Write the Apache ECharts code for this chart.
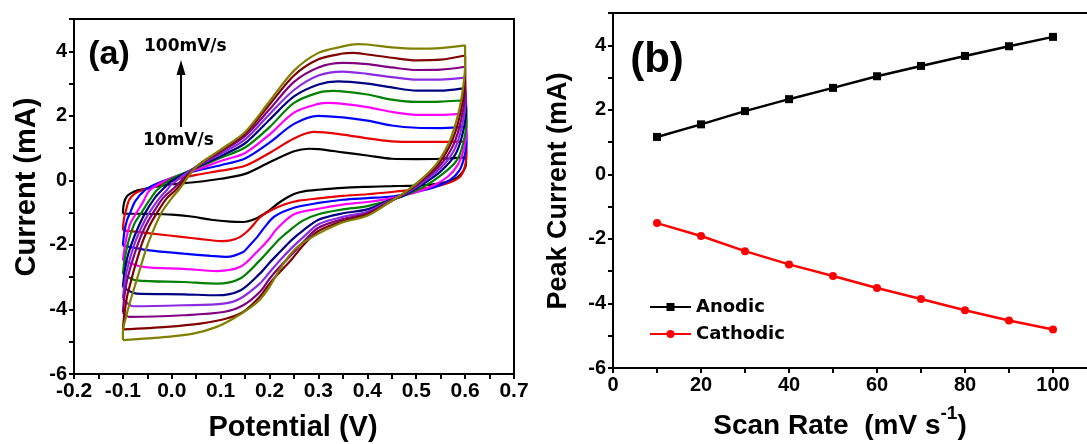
<!DOCTYPE html>
<html>
<head>
<meta charset="utf-8">
<script src="https://cdn.jsdelivr.net/npm/echarts/dist/echarts.min.js"></script>
<style>
  html, body { margin: 0; padding: 0; background: #fff; }
  #chart { width: 1087px; height: 444px; }
</style>
</head>
<body>
<div id="chart"></div>
<script>
// (a) cyclic voltammograms, [potential (V), current (mA)], forward sweep then reverse
var cv10 = [[-0.1,-1.03],[-0.098,-0.72],[-0.093,-0.52],[-0.085,-0.41],[-0.07,-0.31],[-0.05,-0.25],[-0.03,-0.19],[0,-0.12],[0.05,-0.05],[0.1,0.05],[0.15,0.2],[0.2,0.56],[0.25,0.9],[0.28,0.98],[0.3,0.97],[0.35,0.87],[0.4,0.77],[0.45,0.67],[0.5,0.66],[0.55,0.67],[0.6,0.71],
  [0.602,0.52],[0.597,0.3],[0.585,0.1],[0.565,-0.04],[0.53,-0.13],[0.5,-0.16],[0.45,-0.18],[0.4,-0.2],[0.35,-0.23],[0.3,-0.29],[0.27,-0.34],[0.25,-0.42],[0.235,-0.54],[0.215,-0.74],[0.195,-0.98],[0.17,-1.2],[0.146,-1.29],[0.12,-1.28],[0.08,-1.22],[0.04,-1.12],[0,-1.06],[-0.05,-1.04],[-0.1,-1.03]];
var cv20 = [[-0.1,-1.55],[-0.098,-1.2],[-0.094,-0.95],[-0.087,-0.6],[-0.075,-0.4],[-0.06,-0.3],[-0.03,-0.15],[0,0],[0.05,0.17],[0.1,0.3],[0.15,0.45],[0.2,0.85],[0.25,1.3],[0.29,1.5],[0.35,1.42],[0.4,1.3],[0.45,1.21],[0.5,1.19],[0.55,1.19],[0.6,1.2],
  [0.603,0.85],[0.6,0.45],[0.59,0.12],[0.57,-0.06],[0.535,-0.21],[0.5,-0.28],[0.45,-0.36],[0.4,-0.43],[0.35,-0.48],[0.3,-0.56],[0.26,-0.63],[0.23,-0.75],[0.2,-0.95],[0.18,-1.15],[0.16,-1.5],[0.14,-1.75],[0.12,-1.86],[0.1,-1.88],[0.06,-1.82],[0.02,-1.75],[-0.04,-1.65],[-0.1,-1.55]];
var cv30 = [[-0.1,-2.02],[-0.097,-1.6],[-0.092,-1.25],[-0.085,-1.0],[-0.075,-0.65],[-0.055,-0.3],[-0.03,-0.1],[0,0.07],[0.05,0.3],[0.1,0.47],[0.15,0.68],[0.2,1.17],[0.25,1.75],[0.3,2.0],[0.35,1.95],[0.4,1.85],[0.45,1.7],[0.5,1.63],[0.55,1.62],[0.6,1.66],
  [0.603,1.2],[0.598,0.7],[0.588,0.3],[0.57,0.02],[0.54,-0.2],[0.5,-0.36],[0.45,-0.5],[0.4,-0.55],[0.35,-0.6],[0.3,-0.7],[0.25,-0.85],[0.21,-1.12],[0.19,-1.45],[0.175,-1.75],[0.16,-2.0],[0.146,-2.22],[0.112,-2.37],[0.08,-2.34],[0.024,-2.27],[-0.045,-2.17],[-0.1,-2.02]];
var cv40 = [[-0.1,-2.48],[-0.097,-2.15],[-0.093,-1.8],[-0.085,-1.35],[-0.072,-1.0],[-0.058,-0.65],[-0.045,-0.3],[0,0.08],[0.05,0.33],[0.1,0.6],[0.15,0.85],[0.2,1.42],[0.25,2.1],[0.3,2.37],[0.32,2.4],[0.35,2.37],[0.4,2.27],[0.45,2.12],[0.5,2.03],[0.55,2.03],[0.6,2.07],
  [0.603,1.5],[0.597,0.95],[0.585,0.48],[0.565,0.12],[0.535,-0.16],[0.5,-0.37],[0.45,-0.55],[0.4,-0.67],[0.35,-0.75],[0.3,-0.88],[0.25,-1.05],[0.215,-1.5],[0.2,-1.8],[0.174,-2.22],[0.14,-2.68],[0.092,-2.81],[0.024,-2.74],[-0.058,-2.68],[-0.1,-2.48]];
var cv50 = [[-0.1,-2.9],[-0.097,-2.5],[-0.092,-2.1],[-0.085,-1.7],[-0.075,-1.3],[-0.062,-1.0],[-0.045,-0.6],[-0.03,-0.3],[0,0.05],[0.05,0.38],[0.1,0.7],[0.15,1.02],[0.2,1.65],[0.25,2.4],[0.3,2.72],[0.33,2.77],[0.4,2.66],[0.45,2.5],[0.5,2.43],[0.55,2.44],[0.6,2.48],
  [0.603,1.86],[0.596,1.14],[0.583,0.62],[0.555,0.21],[0.514,-0.21],[0.467,-0.52],[0.4,-0.8],[0.35,-0.9],[0.3,-1.05],[0.269,-1.24],[0.245,-1.5],[0.221,-1.81],[0.2,-2.15],[0.18,-2.48],[0.14,-3.04],[0.092,-3.2],[0.024,-3.15],[-0.072,-3.1],[-0.1,-2.9]];
var cv60 = [[-0.1,-3.3],[-0.097,-2.9],[-0.092,-2.45],[-0.083,-2.0],[-0.07,-1.5],[-0.054,-1.0],[-0.035,-0.55],[-0.02,-0.3],[0,-0.02],[0.05,0.4],[0.1,0.75],[0.15,1.15],[0.2,1.88],[0.25,2.6],[0.3,2.97],[0.34,3.07],[0.4,3.0],[0.45,2.88],[0.5,2.78],[0.55,2.78],[0.6,2.86],
  [0.602,2.2],[0.595,1.45],[0.58,0.8],[0.55,0.28],[0.51,-0.15],[0.47,-0.5],[0.445,-0.62],[0.4,-0.9],[0.35,-1.02],[0.3,-1.22],[0.269,-1.55],[0.245,-1.85],[0.221,-2.22],[0.2,-2.55],[0.18,-2.89],[0.14,-3.41],[0.092,-3.56],[0.024,-3.53],[-0.072,-3.51],[-0.1,-3.3]];
var cv70 = [[-0.1,-3.66],[-0.097,-3.25],[-0.092,-2.8],[-0.077,-2.0],[-0.062,-1.45],[-0.046,-1.0],[-0.025,-0.55],[-0.01,-0.3],[0,-0.12],[0.05,0.42],[0.1,0.82],[0.15,1.27],[0.2,2.05],[0.25,2.8],[0.3,3.25],[0.35,3.37],[0.4,3.3],[0.45,3.2],[0.5,3.12],[0.55,3.12],[0.6,3.18],
  [0.601,2.5],[0.594,1.7],[0.578,0.95],[0.55,0.38],[0.51,-0.1],[0.47,-0.48],[0.445,-0.64],[0.4,-0.97],[0.35,-1.13],[0.3,-1.36],[0.269,-1.76],[0.245,-2.1],[0.221,-2.48],[0.2,-2.85],[0.18,-3.2],[0.14,-3.66],[0.106,-3.82],[0.024,-3.87],[-0.079,-3.9],[-0.1,-3.66]];
var cv80 = [[-0.1,-4.1],[-0.097,-3.6],[-0.09,-3.0],[-0.07,-2.0],[-0.055,-1.45],[-0.038,-1.0],[-0.018,-0.55],[0,-0.3],[0.05,0.42],[0.1,0.88],[0.15,1.38],[0.2,2.2],[0.25,3.05],[0.3,3.5],[0.35,3.64],[0.4,3.6],[0.45,3.5],[0.5,3.42],[0.55,3.43],[0.6,3.52],
  [0.6,2.8],[0.593,1.95],[0.576,1.1],[0.548,0.45],[0.508,-0.07],[0.47,-0.46],[0.445,-0.66],[0.4,-1.02],[0.35,-1.2],[0.3,-1.47],[0.269,-1.91],[0.245,-2.3],[0.221,-2.68],[0.2,-3.05],[0.18,-3.46],[0.146,-3.87],[0.106,-4.08],[0.024,-4.18],[-0.086,-4.23],[-0.1,-4.1]];
var cv90 = [[-0.1,-4.62],[-0.097,-4.15],[-0.09,-3.5],[-0.062,-2.0],[-0.047,-1.45],[-0.03,-1.0],[-0.01,-0.55],[0.008,-0.3],[0.05,0.42],[0.1,0.92],[0.15,1.45],[0.2,2.35],[0.25,3.25],[0.3,3.75],[0.35,3.93],[0.37,3.95],[0.4,3.9],[0.45,3.8],[0.5,3.72],[0.55,3.74],[0.6,3.87],
  [0.6,3.15],[0.592,2.2],[0.574,1.25],[0.545,0.5],[0.506,-0.04],[0.472,-0.43],[0.446,-0.67],[0.4,-1.06],[0.35,-1.26],[0.3,-1.57],[0.269,-2.01],[0.245,-2.45],[0.221,-2.84],[0.2,-3.2],[0.18,-3.61],[0.146,-4.08],[0.112,-4.28],[0.058,-4.44],[-0.01,-4.54],[-0.1,-4.62]];
var cv100 = [[-0.1,-4.95],[-0.1,-4.7],[-0.093,-4.2],[-0.086,-3.8],[-0.072,-3.1],[-0.051,-2.06],[-0.035,-1.45],[-0.021,-1.0],[0,-0.55],[0.014,-0.3],[0.05,0.42],[0.1,0.95],[0.15,1.5],[0.2,2.45],[0.25,3.4],[0.3,3.95],[0.35,4.15],[0.38,4.22],[0.4,4.21],[0.45,4.12],[0.5,4.08],[0.55,4.1],[0.6,4.18],
  [0.6,3.61],[0.596,2.89],[0.586,2.06],[0.569,1.24],[0.542,0.52],[0.508,0],[0.473,-0.41],[0.446,-0.67],[0.4,-1.1],[0.35,-1.3],[0.3,-1.65],[0.262,-2.0],[0.242,-2.3],[0.221,-2.75],[0.2,-3.3],[0.18,-3.7],[0.16,-3.95],[0.126,-4.28],[0.092,-4.54],[0.044,-4.75],[-0.01,-4.85],[-0.1,-4.95]];

var cvCurves = [cv10, cv20, cv30, cv40, cv50, cv60, cv70, cv80, cv90, cv100];
var cvNames = ['10mV/s', '20mV/s', '30mV/s', '40mV/s', '50mV/s', '60mV/s', '70mV/s', '80mV/s', '90mV/s', '100mV/s'];
var cvColors = ['#000000', '#e60000', '#0000ff', '#ff00ff', '#008000', '#000080', '#8a2be2', '#800080', '#800000', '#808000'];

// (b) peak currents vs scan rate
var scanRates = [10, 20, 30, 40, 50, 60, 70, 80, 90, 100];
var anodic = [1.16, 1.55, 1.96, 2.33, 2.68, 3.04, 3.36, 3.67, 3.97, 4.26];
var cathodic = [-1.51, -1.91, -2.38, -2.79, -3.15, -3.52, -3.86, -4.21, -4.53, -4.81];

var FONT = '"Liberation Sans", Arial, sans-serif';
var DV = '"DejaVu Sans", sans-serif';
var myChart = echarts.init(document.getElementById('chart'));

function pairs(xs, ys) {
  return xs.map(function (x, i) { return [x, ys[i]]; });
}

var labelStyle = { color: '#000', fontSize: 20, fontWeight: 'bold', fontFamily: FONT, margin: 7 };
var tickStyle = { show: true, inside: false, length: 5, lineStyle: { color: '#000', width: 2 } };
var lineStyle = { show: true, onZero: false, lineStyle: { color: '#000', width: 2 } };

var series = cvCurves.map(function (d, i) {
  return {
    name: cvNames[i], type: 'line', xAxisIndex: 0, yAxisIndex: 0,
    data: d, showSymbol: false, symbol: 'none', smooth: 0.3,
    lineStyle: { color: cvColors[i], width: 2.2 }, silent: true, z: 2 + i
  };
});
series.push({
  name: 'Anodic', type: 'line', xAxisIndex: 1, yAxisIndex: 1,
  data: pairs(scanRates, anodic), symbol: 'rect', symbolSize: 8,
  itemStyle: { color: '#000' }, lineStyle: { color: '#000', width: 2.5 }
});
series.push({
  name: 'Cathodic', type: 'line', xAxisIndex: 1, yAxisIndex: 1,
  data: pairs(scanRates, cathodic), symbol: 'circle', symbolSize: 8,
  itemStyle: { color: '#ff0000' }, lineStyle: { color: '#ff0000', width: 2.5 }
});

var option = {
  animation: false,
  backgroundColor: '#fff',
  grid: [
    { left: 74, top: 19, width: 440, height: 355, show: true, borderColor: '#000', borderWidth: 2, containLabel: false, outerBoundsMode: 'none' },
    { left: 613, top: 13, width: 528, height: 355, show: true, borderColor: '#000', borderWidth: 2, containLabel: false, outerBoundsMode: 'none' }
  ],
  legend: {
    data: ['Anodic', 'Cathodic'],
    orient: 'vertical', left: 649, top: 298, padding: 0,
    itemWidth: 41, itemHeight: 10, itemGap: 9,
    textStyle: { color: '#000', fontSize: 18, fontWeight: 'bold', fontFamily: DV, padding: [0, 0, 0, 0] }
  },
  xAxis: [
    {
      type: 'value', gridIndex: 0, min: -0.2, max: 0.7, interval: 0.05,
      axisLine: lineStyle, axisTick: tickStyle, splitLine: { show: false },
      axisLabel: Object.assign({}, labelStyle, {
        fontSize: 21,
        formatter: function (v) {
          var k = Math.round(v * 100);
          return Math.abs(k) % 10 === 0 ? (k / 100).toFixed(1) : '';
        }
      })
    },
    {
      type: 'value', gridIndex: 1, min: 0, max: 120, interval: 10,
      axisLine: lineStyle, axisTick: tickStyle, splitLine: { show: false },
      axisLabel: Object.assign({}, labelStyle, {
        formatter: function (v) { return (v % 20 === 0 && v <= 100) ? String(v) : ''; }
      })
    }
  ],
  yAxis: [
    {
      type: 'value', gridIndex: 0, min: -6, max: 5, interval: 1,
      axisLine: lineStyle, axisTick: tickStyle, splitLine: { show: false },
      axisLabel: Object.assign({}, labelStyle, {
        formatter: function (v) { return Math.abs(v) % 2 === 0 ? String(v) : ''; }
      })
    },
    {
      type: 'value', gridIndex: 1, min: -6, max: 5, interval: 1,
      axisLine: lineStyle, axisTick: tickStyle, splitLine: { show: false },
      axisLabel: Object.assign({}, labelStyle, {
        formatter: function (v) { return Math.abs(v) % 2 === 0 ? String(v) : ''; }
      })
    }
  ],
  graphic: [
    { type: 'text', x: 27, y: 187, rotation: Math.PI / 2,
      style: { text: 'Current (mA)', font: 'bold 29px ' + FONT, fill: '#000', textAlign: 'center', textVerticalAlign: 'middle' } },
    { type: 'text', x: 293, y: 428,
      style: { text: 'Potential (V)', font: 'bold 29px ' + FONT, fill: '#000', textAlign: 'center', textVerticalAlign: 'middle' } },
    { type: 'text', x: 109, y: 55,
      style: { text: '(a)', font: 'bold 34px ' + FONT, fill: '#000', textAlign: 'center', textVerticalAlign: 'middle' } },
    { type: 'text', x: 144, y: 47,
      style: { text: '100mV/s', font: 'bold 17px ' + DV, fill: '#000', textAlign: 'left', textVerticalAlign: 'middle' } },
    { type: 'text', x: 143, y: 141,
      style: { text: '10mV/s', font: 'bold 17px ' + DV, fill: '#000', textAlign: 'left', textVerticalAlign: 'middle' } },
    { type: 'line', shape: { x1: 181, y1: 127, x2: 181, y2: 72 }, style: { stroke: '#000', lineWidth: 2 } },
    { type: 'polygon', shape: { points: [[181, 60], [176.5, 75], [185.5, 75]] }, style: { fill: '#000' } },
    { type: 'text', x: 657, y: 60,
      style: { text: '(b)', font: 'bold 42px ' + FONT, fill: '#000', textAlign: 'center', textVerticalAlign: 'middle' } },
    { type: 'text', x: 559, y: 191, rotation: Math.PI / 2,
      style: { text: 'Peak Current (mA)', font: 'bold 27px ' + FONT, fill: '#000', textAlign: 'center', textVerticalAlign: 'middle' } },
    { type: 'text', x: 840, y: 422,
      style: {
        text: '{n|Scan Rate  (mV s}{s|-1}{n|)}', fill: '#000', textAlign: 'center', textVerticalAlign: 'middle',
        rich: {
          n: { font: 'bold 28px ' + FONT, fill: '#000', lineHeight: 36, verticalAlign: 'bottom' },
          s: { font: 'bold 19px ' + FONT, fill: '#000', lineHeight: 36, verticalAlign: 'top' }
        }
      } }
  ],
  series: series
};

myChart.setOption(option);
</script>
</body>
</html>
